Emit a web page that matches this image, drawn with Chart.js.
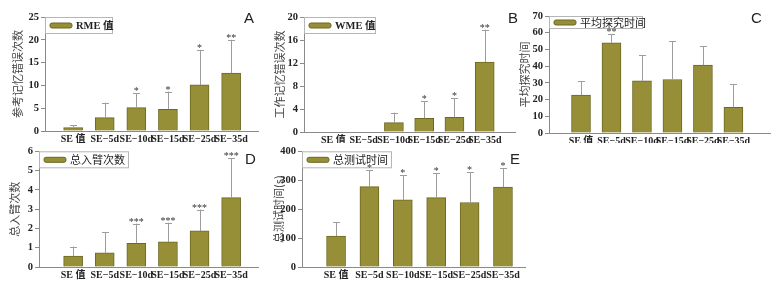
<!DOCTYPE html>
<html>
<head>
<meta charset="utf-8">
<script src="https://cdn.jsdelivr.net/npm/chart.js@4"></script>
<style>
    body { margin: 0; background: #fff; width: 773px; height: 285px; position: relative; overflow: hidden; }
    canvas { position: absolute; }
</style>
</head>
<body>
<canvas id="chartA" width="262" height="143" style="left:0;top:0"></canvas>
<canvas id="chartB" width="258" height="143" style="left:262px;top:0"></canvas>
<canvas id="chartC" width="263" height="143" style="left:510px;top:0"></canvas>
<canvas id="chartD" width="262" height="142" style="left:0;top:143px"></canvas>
<canvas id="chartE" width="266" height="142" style="left:262px;top:143px"></canvas>
<script>
// groups on the x axis
const groups = ['SE 值', 'SE−5d', 'SE−10d', 'SE−15d', 'SE−25d', 'SE−35d'];

// A: reference memory errors
const rmeMean = [0.73, 2.93, 5.13, 4.77, 10.1, 12.7];
const rmeErrTop = [1.25, 6.2, 8.28, 8.65, 17.8, 20.0];
const rmeSig = ['', '', '*', '*', '*', '**'];

// B: working memory errors
const wmeMean = [0, 0, 1.62, 2.38, 2.55, 12.17];
const wmeErrTop = [0, 0, 3.36, 5.33, 5.9, 17.8];
const wmeSig = ['', '', '', '*', '*', '**'];

// C: mean exploring time
const exploreMean = [22.7, 54, 31.2, 32, 40.6, 15.3];
const exploreErrTop = [31, 59, 46.5, 54.9, 52, 29.2];
const exploreSig = ['', '**', '', '', '', ''];

// D: total arm entries
const entriesMean = [0.57, 0.74, 1.23, 1.3, 1.87, 3.6];
const entriesErrTop = [1.06, 1.82, 2.25, 2.3, 2.98, 5.63];
const entriesSig = ['', '', '***', '***', '***', '***'];

// E: total test time
const testMean = [107, 278, 232, 240, 223, 276];
const testErrTop = [156, 334, 318, 324, 328, 341];
const testSig = ['', '*', '*', '*', '*', '*'];

const barFill = '#968f37';
const barEdge = '#6c6822';
const axisColor = '#8a8a8a';
const serif = '"Liberation Serif", "Noto Sans CJK SC", serif';
const cjk = '"Noto Sans CJK SC", sans-serif';

// boxed legend inside the plot and the panel letter
const boxLegend = {
    id: 'boxLegend',
    afterDatasetsDraw(chart, args, opts) {
        const ctx = chart.ctx;
        const a = chart.chartArea;
        const h = opts.height;
        ctx.save();
        ctx.fillStyle = '#fff';
        ctx.strokeStyle = '#b5b5b5';
        ctx.lineWidth = 1;
        ctx.fillRect(a.left, a.top, opts.width, h);
        ctx.strokeRect(a.left + 0.5, a.top + 0.5, opts.width, h);
        ctx.fillStyle = barFill;
        ctx.strokeStyle = barEdge;
        ctx.beginPath();
        ctx.roundRect(a.left + 5, a.top + h / 2 - 2, 22, 5, 2);
        ctx.fill();
        ctx.stroke();
        ctx.fillStyle = '#222';
        ctx.font = opts.font;
        ctx.textBaseline = 'middle';
        ctx.textAlign = 'left';
        ctx.fillText(chart.data.datasets[0].label, a.left + 31, a.top + h / 2 + 1);
        ctx.font = '15px "Liberation Sans", Arial, sans-serif';
        ctx.fillText(opts.letter, opts.letterX, opts.letterY);
        ctx.restore();
    }
};

// error bars + significance stars
const errorBars = {
    id: 'errorBars',
    afterDatasetsDraw(chart) {
        const ds = chart.data.datasets[0];
        const meta = chart.getDatasetMeta(0);
        const y = chart.scales.y;
        const ctx = chart.ctx;
        ctx.save();
        meta.data.forEach(function (bar, i) {
            const top = ds.errTop[i];
            if (top > ds.data[i].y) {
                const yt = y.getPixelForValue(top);
                ctx.strokeStyle = '#9d9d9d';
                ctx.lineWidth = 1;
                ctx.beginPath();
                ctx.moveTo(Math.round(bar.x) + 0.5, bar.y);
                ctx.lineTo(Math.round(bar.x) + 0.5, yt);
                ctx.moveTo(Math.round(bar.x) - 3, Math.round(yt) + 0.5);
                ctx.lineTo(Math.round(bar.x) + 4, Math.round(yt) + 0.5);
                ctx.stroke();
            }
            if (ds.sig[i]) {
                const yt = y.getPixelForValue(Math.max(top, ds.data[i].y));
                ctx.fillStyle = '#333';
                ctx.font = '10px ' + serif;
                ctx.textAlign = 'center';
                ctx.textBaseline = 'alphabetic';
                ctx.fillText(ds.sig[i], bar.x, yt + 1);
            }
        });
        ctx.restore();
    }
};

function drawPanel(id, p) {
    new Chart(document.getElementById(id), {
        type: 'bar',
        data: {
            datasets: [{
                label: p.legend,
                data: p.mean.map((v, i) => ({x: i + 1, y: v})),
                errTop: p.errTop,
                sig: p.sig,
                backgroundColor: barFill,
                borderColor: barEdge,
                borderWidth: 1,
                barThickness: 19
            }]
        },
        options: {
            responsive: false,
            animation: false,
            layout: {padding: {top: p.top, right: p.right, left: 0, bottom: 0}},
            plugins: {
                legend: {display: false},
                tooltip: {enabled: false},
                boxLegend: {
                    width: p.legendWidth, height: p.legendHeight, font: p.legendFont,
                    letter: p.letter, letterX: p.letterX, letterY: p.letterY
                }
            },
            scales: {
                x: {
                    type: 'linear',
                    offset: false,
                    min: p.xMin,
                    max: p.xMax,
                    afterBuildTicks: s => { s.ticks = groups.map((g, i) => ({value: i + 1})); },
                    afterFit: s => { s.height = p.xh; },
                    grid: {display: true, drawOnChartArea: false, drawTicks: false},
                    border: {color: axisColor},
                    ticks: {
                        callback: v => groups[v - 1],
                        autoSkip: false,
                        maxRotation: 0,
                        minRotation: 0,
                        padding: 2,
                        color: '#222',
                        font: {family: serif, size: 10, weight: 'bold'}
                    }
                },
                y: {
                    min: 0,
                    max: p.yMax,
                    afterFit: s => { s.width = p.yw; },
                    grid: {display: true, drawOnChartArea: false, drawTicks: true, tickLength: 4, color: axisColor},
                    border: {color: axisColor},
                    ticks: {
                        stepSize: p.yStep,
                        padding: 2,
                        color: '#222',
                        font: {family: serif, size: 10.5, weight: 'bold'}
                    },
                    title: {
                        display: true,
                        text: p.yTitle,
                        color: '#444',
                        padding: {top: p.titlePad, bottom: 0},
                        font: {family: cjk, size: 11}
                    }
                }
            }
        },
        plugins: [boxLegend, errorBars]
    });
}

drawPanel('chartA', {
    mean: rmeMean, errTop: rmeErrTop, sig: rmeSig, legend: 'RME 值',
    legendWidth: 67, legendHeight: 16, legendFont: 'bold 10.5px ' + serif,
    yMax: 25, yStep: 5, yTitle: '参考记忆错误次数',
    yw: 45, xh: 12, top: 17, right: 4, xMin: 0.11, xMax: 6.85, titlePad: 11,
    letter: 'A', letterX: 244, letterY: 19
});
drawPanel('chartB', {
    mean: wmeMean, errTop: wmeErrTop, sig: wmeSig, legend: 'WME 值',
    legendWidth: 71, legendHeight: 16, legendFont: 'bold 10.5px ' + serif,
    yMax: 20, yStep: 2, yTitle: '工作记忆错误次数',
    yw: 42, xh: 11, top: 17, right: 5, xMin: 0.03, xMax: 7.0, titlePad: 11,
    letter: 'B', letterX: 246, letterY: 19
});
drawPanel('chartC', {
    mean: exploreMean, errTop: exploreErrTop, sig: exploreSig, legend: '平均探究时间',
    legendWidth: 93, legendHeight: 12, legendFont: '11px ' + cjk,
    yMax: 70, yStep: 10, yTitle: '平均探究时间',
    yw: 39, xh: 10, top: 16, right: 3, xMin: -0.05, xMax: 7.2, titlePad: 8,
    letter: 'C', letterX: 241, letterY: 19
});
drawPanel('chartD', {
    mean: entriesMean, errTop: entriesErrTop, sig: entriesSig, legend: '总入臂次数',
    legendWidth: 89, legendHeight: 16, legendFont: '11px ' + cjk,
    yMax: 6, yStep: 1, yTitle: '总入臂次数',
    yw: 39, xh: 18, top: 7, right: 4, xMin: -0.08, xMax: 6.85, titlePad: 8,
    letter: 'D', letterX: 245, letterY: 17
});
drawPanel('chartE', {
    mean: testMean, errTop: testErrTop, sig: testSig, legend: '总测试时间',
    legendWidth: 89, legendHeight: 16, legendFont: '11px ' + cjk,
    yMax: 400, yStep: 100, yTitle: '总测试时间(s)',
    yw: 40, xh: 18, top: 7, right: 3, xMin: -0.02, xMax: 6.66, titlePad: 10,
    letter: 'E', letterX: 248, letterY: 17
});
</script>
</body>
</html>
